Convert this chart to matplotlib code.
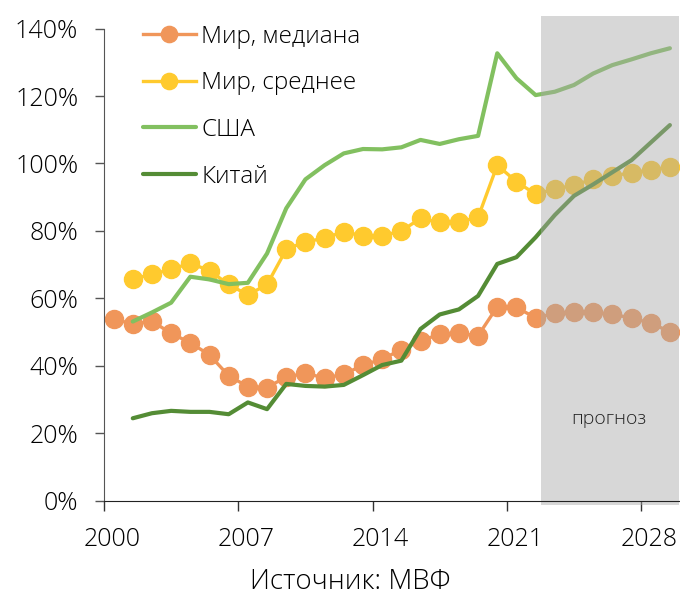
import matplotlib
matplotlib.use("Agg")
import matplotlib.pyplot as plt
from matplotlib.patches import Rectangle
from matplotlib.transforms import ScaledTranslation
import numpy as np

plt.rcParams['font.family'] = ['Open Sans', 'DejaVu Sans']

years = list(range(2000, 2030))
years_from_2001 = list(range(2001, 2030))

world_median = [53.8, 52.4, 53.2, 49.6, 46.8, 43.2, 37.0, 33.8, 33.5, 36.7,
                37.7, 36.4, 37.4, 40.2, 41.9, 44.8, 47.4, 49.3, 49.6, 48.9,
                57.5, 57.3, 54.2, 55.5, 55.8, 55.8, 55.2, 54.2, 52.6, 50.1]
world_mean = [65.7, 67.1, 68.6, 70.4, 68.2, 64.1, 61.0, 64.1, 74.5, 76.8,
              77.8, 79.8, 78.5, 78.5, 80.0, 83.7, 82.5, 82.7, 84.0, 99.5,
              94.6, 90.9, 92.4, 93.6, 95.3, 96.3, 97.3, 98.1, 99.0]
usa = [53.1, 55.8, 58.7, 66.4, 65.6, 64.2, 64.6, 73.3, 86.7, 95.3,
       99.5, 103.0, 104.3, 104.2, 104.8, 107.0, 105.8, 107.2, 108.2, 132.7,
       125.3, 120.3, 121.3, 123.3, 126.7, 129.2, 130.9, 132.7, 134.2]
china = [24.4, 25.9, 26.6, 26.3, 26.3, 25.6, 29.1, 27.1, 34.6, 34.0,
         33.8, 34.3, 37.2, 40.2, 41.5, 50.9, 55.2, 56.7, 60.7, 70.2,
         72.2, 78.1, 84.7, 90.4, 93.8, 97.4, 101.0, 106.2, 111.4]

labels = ['Мир, медиана', 'Мир, среднее', 'США', 'Китай']
xticks = [2000, 2007, 2014, 2021, 2028]
yticks = [0, 20, 40, 60, 80, 100, 120, 140]
forecast_start = 2022.77
forecast_end = 2030

c_orange = '#F0965A'
c_yellow = '#FFCA2E'
c_lgreen = '#82C060'
c_dgreen = '#548C35'

fig = plt.figure(figsize=(6.8, 5.97), dpi=100)
ax = fig.add_axes([104/680, 1-500.5/597, (679.5-104)/680, (500.5-28.7)/597])

xm = np.array(years) + 0.5
x1 = np.array(years_from_2001) + 0.5

ax.plot(xm, world_median, color=c_orange, lw=2.4, marker='o', ms=13,
        label=labels[0], zorder=2)
ax.plot(x1, world_mean, color=c_yellow, lw=2.4, marker='o', ms=13,
        label=labels[1], zorder=2)
ax.plot(x1, usa, color=c_lgreen, lw=3, label=labels[2], zorder=2, solid_capstyle='round')
ax.plot(x1, china, color=c_dgreen, lw=3, label=labels[3], zorder=2, solid_capstyle='round')

rect = Rectangle((forecast_start, -1.2), forecast_end - forecast_start, 145.0,
                 facecolor='#A8A8A8', alpha=0.45, edgecolor='none', zorder=3,
                 clip_on=False)
ax.add_patch(rect)
ax.text(2026.3, 24.3, 'прогноз', fontsize=14, ha='center', va='center',
        color='#222222', zorder=5, fontweight='light')

ax.set_xlim(2000, 2030)
ax.set_ylim(0, 140)
ax.set_xticks(xticks)
ax.set_xticklabels([str(t) for t in xticks], fontsize=18, fontweight='light')
ax.set_yticks(yticks)
ax.set_yticklabels([f'{t}%' for t in yticks], fontsize=18, fontweight='light')
ax.tick_params(axis='x', direction='out', length=7, width=1, color='#333333', pad=12)
ax.tick_params(axis='y', direction='out', length=6.5, width=1, color='#555555', pad=12)
offset = ScaledTranslation(8/100, 0, fig.dpi_scale_trans)
for lab in ax.get_xticklabels():
    lab.set_transform(lab.get_transform() + offset)

for s in ['top', 'right']:
    ax.spines[s].set_visible(False)
ax.spines['left'].set_color('#555555')
ax.spines['bottom'].set_color('#222222')
ax.spines['left'].set_zorder(4)
ax.spines['bottom'].set_zorder(4)

leg = ax.legend(loc='upper left', bbox_to_anchor=(133/680, 1-15/597),
                bbox_transform=fig.transFigure, frameon=False,
                prop={'size': 17.5, 'weight': 'light'},
                handlelength=2.2, handletextpad=0.2, labelspacing=0.93,
                markerscale=0.9, borderaxespad=0)

fig.text(350/680, 1-582/597, 'Источник: МВФ', fontsize=20, ha='center', va='center',
         fontweight='light')

fig.savefig('out.png', dpi=100)
